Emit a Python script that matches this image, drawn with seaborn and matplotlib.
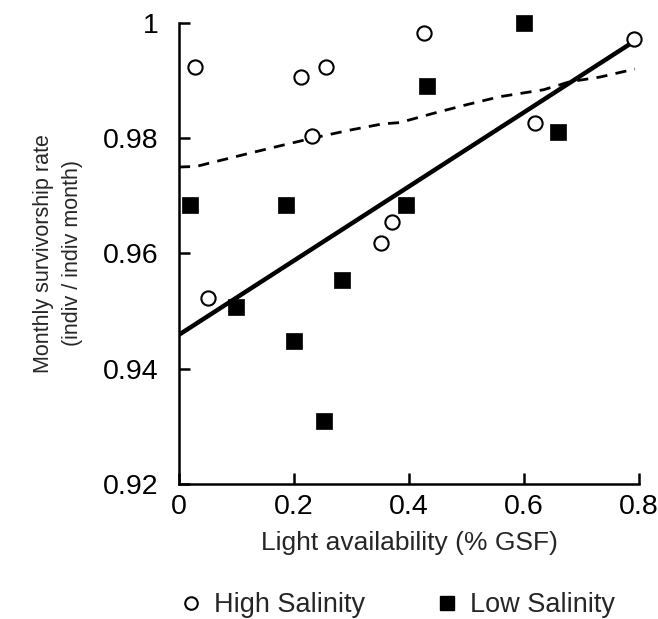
import numpy as np
import pandas as pd
import matplotlib
matplotlib.use("Agg")
import matplotlib.pyplot as plt
from matplotlib.lines import Line2D
import seaborn as sns

# High salinity points (open circles)
high_x = [0.028, 0.051, 0.212, 0.232, 0.256, 0.351, 0.371, 0.427, 0.619, 0.792]
high_y = [0.9923, 0.9523, 0.9907, 0.9804, 0.9923, 0.9619, 0.9655, 0.9983, 0.9827, 0.9972]

# Low salinity points (filled squares)
low_x = [0.019, 0.099, 0.187, 0.200, 0.252, 0.284, 0.395, 0.431, 0.600, 0.660]
low_y = [0.9684, 0.9507, 0.9684, 0.9448, 0.9310, 0.9554, 0.9684, 0.9891, 1.0000, 0.9811]

# fitted lines
solid_x = [0.0, 0.79]
solid_y = [0.9459, 0.9967]
dash_x = [0.0, 0.03, 0.054, 0.123, 0.181, 0.232, 0.297, 0.355, 0.384, 0.442, 0.5, 0.558, 0.634, 0.68, 0.732, 0.793]
dash_y = [0.9750, 0.9751, 0.9757, 0.9774, 0.9788, 0.9800, 0.9814, 0.9825, 0.9827, 0.9843, 0.9858, 0.9872, 0.9884, 0.9898, 0.9906, 0.9920]

sns.set_theme(style="ticks")
plt.rcParams['font.family'] = ['Liberation Sans', 'DejaVu Sans']

df_high = pd.DataFrame({"x": high_x, "y": high_y})
df_low = pd.DataFrame({"x": low_x, "y": low_y})

fig = plt.figure(figsize=(6.58, 6.19), dpi=100)
ax = fig.add_axes([0.272, 0.218, 0.699, 0.745])

sns.lineplot(x=dash_x, y=dash_y, ax=ax, color="black", lw=2.0, zorder=2)
ax.lines[-1].set_dashes([4, 3])
sns.lineplot(x=solid_x, y=solid_y, ax=ax, color="black", lw=3.2, zorder=2)

sns.scatterplot(data=df_high, x="x", y="y", ax=ax, marker="o", s=105,
                facecolor="white", edgecolor="black", linewidth=1.5, zorder=3,
                clip_on=False)
sns.scatterplot(data=df_low, x="x", y="y", ax=ax, marker="s", s=125,
                color="black", edgecolor="black", linewidth=0.5, zorder=3,
                clip_on=False)

ax.set_xlim(0, 0.8)
ax.set_ylim(0.92, 1.0)
ax.set_xticks([0, 0.2, 0.4, 0.6, 0.8])
ax.set_xticklabels(["0", "0.2", "0.4", "0.6", "0.8"])
ax.set_yticks([0.92, 0.94, 0.96, 0.98, 1.0])
ax.set_yticklabels(["0.92", "0.94", "0.96", "0.98", "1"])

for side in ["top", "right"]:
    ax.spines[side].set_visible(False)
for side in ["left", "bottom"]:
    ax.spines[side].set_linewidth(1.8)
    ax.spines[side].set_color("black")

ax.tick_params(direction="in", length=8, width=1.8, colors="black", labelsize=20.5)
ax.tick_params(axis="y", pad=15)
ax.tick_params(axis="x", pad=7)

ax.set_xlabel("Light availability (% GSF)", fontsize=19, labelpad=8)
ax.set_ylabel("Monthly survivorship rate\n(indiv / indiv month)", fontsize=15.5, labelpad=14,
              linespacing=1.5)

handles = [
    Line2D([], [], marker="o", ls="none", markersize=9, markerfacecolor="white",
           markeredgecolor="black", markeredgewidth=1.5, label="High Salinity"),
    Line2D([], [], marker="s", ls="none", markersize=10, markerfacecolor="black",
           markeredgecolor="black", label="Low Salinity"),
]
fig.legend(handles=handles, loc="center", bbox_to_anchor=(0.602, 0.022), ncol=2,
           frameon=False, fontsize=19.5, handletextpad=0.35, columnspacing=2.55,
           handlelength=1.0)

fig.savefig("out.png", dpi=100, facecolor="white")
